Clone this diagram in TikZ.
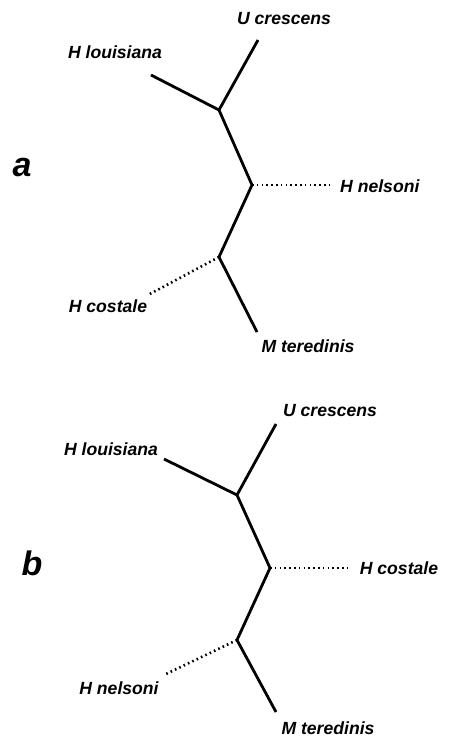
\documentclass[tikz,border=0pt]{standalone}
\usepackage{fontspec}
\setmainfont{Liberation Sans}
\begin{document}
\begin{tikzpicture}[x=1pt,y=-1pt,
  branch/.style={line width=2.8pt,line join=miter},
  dotbranch/.style={line width=2.6pt,dash pattern=on 1.6pt off 3.2pt},
  taxon/.style={inner sep=0pt,font=\fontsize{17.6}{18}\selectfont\bfseries\itshape},
  panel/.style={inner sep=0pt,font=\fontsize{34}{34}\selectfont\bfseries\itshape}]
\useasboundingbox (0,0) rectangle (448,737);
% ---- tree a ----
\coordinate (a1) at (219,110);
\coordinate (a2) at (252,185);
\coordinate (a3) at (219,257);
\coordinate (auc) at (258,40);
\coordinate (ahl) at (151,75);
\coordinate (ahn) at (333,185);
\coordinate (ahc) at (148,295);
\coordinate (amt) at (257,332);
\draw[branch] (auc) -- (a1) -- (a2) -- (a3) -- (amt);
\draw[branch] (ahl) -- (a1);
\draw[dotbranch] (a2) -- (ahn);
\draw[dotbranch] (a3) -- (ahc);
\node[taxon] (aUC) at (284,19) {U crescens};
\node[taxon] (aHL) at (115,52) {H louisiana};
\node[taxon,anchor=west] (aHN) at (340,186) {H nelsoni};
\node[taxon] (aHC) at (108,306) {H costale};
\node[taxon] (aMT) at (308,346) {M teredinis};
\node[panel] (la) at (22,168) {a};
% ---- tree b ----
\coordinate (b1) at (237,495);
\coordinate (b2) at (270,568);
\coordinate (b3) at (237,640);
\coordinate (buc) at (276,424);
\coordinate (bhl) at (164,459);
\coordinate (bhc) at (350,568);
\coordinate (bhn) at (164,675);
\coordinate (bmt) at (276,712);
\draw[branch] (buc) -- (b1) -- (b2) -- (b3) -- (bmt);
\draw[branch] (bhl) -- (b1);
\draw[dotbranch] (b2) -- (bhc);
\draw[dotbranch] (b3) -- (bhn);
\node[taxon] (bUC) at (330,411) {U crescens};
\node[taxon] (bHL) at (111,449) {H louisiana};
\node[taxon] (bHC) at (399,568) {H costale};
\node[taxon] (bHN) at (119,688) {H nelsoni};
\node[taxon] (bMT) at (328,728) {M teredinis};
\node[panel] (lb) at (32,563) {b};
\end{tikzpicture}
\end{document}
